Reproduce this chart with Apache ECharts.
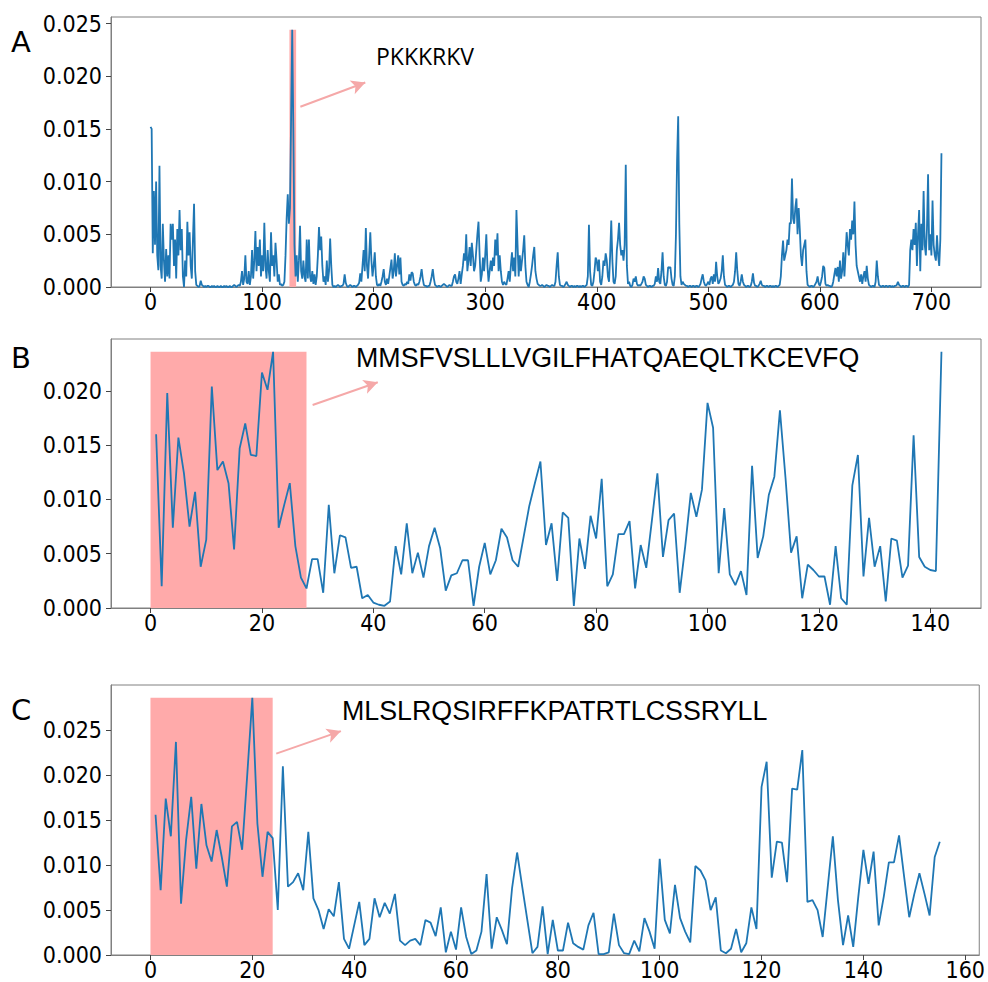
<!DOCTYPE html>
<html><head><meta charset="utf-8">
<script src="https://cdn.jsdelivr.net/npm/echarts@6/dist/echarts.min.js"></script>
<style>html,body{margin:0;padding:0;background:#fff}#c{width:988px;height:982px}</style>
</head><body><div id="c"></div>
<script>
// Panel A: attention weights, residues 0..709
const startA = 0;
const seriesA = [
.0152,.0150,.0032,.0091,.0040,.0100,.0030,.0016,.0115,.0020,
.0008,.0060,.0025,.0005,.0036,.0010,.0030,.0008,.0060,.0045,
.0060,.0020,.0045,.0008,.0055,.0030,.0073,.0035,.0055,.0010,
0,.0025,.0010,.0062,.0030,.0052,.0020,.0008,.0045,.0079,
.0015,.0002,.0001,0,.0001,.0006,.0002,.0001,0,.0001,
0,.0001,.0001,0,0,.0001,0,.0001,0,0,
.0001,0,0,.0001,0,0,.0001,0,.0001,0,
0,.0001,0,0,.0001,.0002,.0001,0,.0001,.0002,
.0001,.0005,.0015,.0002,.0008,.0030,.0005,.0003,.0015,.0002,
.0010,.0035,.0008,.0025,.0053,.0015,.0038,.0020,.0045,.0010,
.0030,.0015,.0061,.0020,.0008,.0035,.0015,.0005,.0052,.0020,
.0030,.0010,.0042,.0025,.0005,.0012,.0002,.0003,.0001,.0002,
.0005,.0030,.0065,.0088,.0060,.0075,.0160,.0244,.0150,.0040,
.0010,.0030,.0005,.0025,.0058,.0015,.0008,.0025,.0010,.0005,
.0045,.0008,.0045,.0010,.0005,.0015,.0003,.0012,.0002,.0010,
.0030,.0057,.0035,.0048,.0020,.0005,.0010,.0002,.0025,.0005,
.0015,.0046,.0020,.0002,0,.0001,0,.0001,.0002,.0001,
0,.0001,.0001,.0003,.0012,.0004,.0001,0,.0001,.0002,
.0001,0,.0001,.0001,0,.0001,.0002,.0004,.0013,.0005,
.0020,.0035,.0015,.0056,.0020,.0008,.0030,.0052,.0025,.0010,
.0020,.0033,.0010,.0002,.0001,.0003,.0001,.0005,.0010,.0017,
.0005,.0002,.0008,.0003,.0010,.0018,.0026,.0008,.0015,.0032,
.0010,.0020,.0030,.0012,.0028,.0005,.0002,.0001,.0003,.0002,
.0005,.0003,.0012,.0006,.0014,.0013,.0005,.0002,.0001,.0003,
.0002,.0005,.0010,.0017,.0008,.0002,.0001,.0001,0,.0001,
.0001,.0005,.0010,.0017,.0008,.0002,.0001,0,.0001,.0001,
0,.0001,.0002,.0003,.0002,.0001,0,.0001,.0002,.0001,
.0001,.0005,.0010,.0012,.0005,.0003,.0008,.0015,.0003,.0012,
.0020,.0032,.0025,.0050,.0015,.0025,.0038,.0020,.0042,.0030,
.0015,.0020,.0035,.0050,.0062,.0030,.0005,.0012,.0028,.0015,
.0030,.0050,.0020,.0005,.0015,.0025,.0015,.0028,.0020,.0045,
.0030,.0051,.0015,.0030,.0015,.0005,.0002,.0005,.0003,.0002,
.0008,.0015,.0005,.0020,.0033,.0015,.0028,.0010,.0073,.0040,
.0010,.0030,.0015,.0025,.0035,.0049,.0020,.0005,.0002,0,
.0005,.0012,.0020,.0030,.0038,.0015,.0008,.0003,.0002,.0001,
.0001,.0002,.0001,0,.0001,.0002,.0001,.0001,0,.0001,
.0002,.0001,.0001,.0005,.0020,.0033,.0010,.0002,.0001,.0001,
0,.0001,.0003,.0005,.0002,.0001,0,.0001,.0001,0,
.0001,0,.0001,.0001,0,.0001,0,.0001,.0001,0,
.0001,.0002,.0010,.0059,.0015,.0002,.0001,.0005,.0015,.0028,
.0025,.0015,.0026,.0005,.0002,.0010,.0025,.0020,.0032,.0025,
.0010,.0005,.0030,.0063,.0025,.0005,.0003,.0010,.0035,.0045,
.0061,.0040,.0030,.0035,.0025,.0040,.0116,.0020,.0003,.0005,
.0001,0,.0002,.0008,.0005,.0010,.0003,.0001,.0002,.0001,
.0003,.0005,.0010,.0008,.0002,.0001,0,.0001,.0001,0,
.0001,.0001,.0003,.0010,.0005,.0018,.0005,.0003,.0015,.0033,
.0010,.0002,.0001,.0005,.0019,.0018,.0019,.0008,.0002,.0001,
.0010,.0050,.0120,.0162,.0060,.0010,.0002,.0005,.0003,.0002,
.0001,.0001,0,.0001,.0001,0,.0001,.0001,0,.0001,
.0001,0,.0001,.0003,.0008,.0012,.0005,.0002,.0001,.0003,
.0005,.0002,.0008,.0010,.0003,.0012,.0005,.0024,.0010,.0003,
.0005,.0008,.0015,.0030,.0010,.0002,.0001,0,.0001,.0001,
0,.0001,.0002,.0005,.0015,.0033,.0015,.0003,.0001,.0005,
.0012,.0005,.0002,.0001,0,.0001,.0001,0,.0001,.0005,
.0013,.0004,.0001,.0001,0,.0001,.0003,.0006,.0002,.0001,
.0001,0,.0001,.0001,0,.0001,.0001,0,.0001,0,
.0001,.0001,0,.0001,.0002,.0010,.0030,.0044,.0025,.0030,
.0035,.0045,.0040,.0061,.0060,.0103,.0065,.0060,.0075,.0084,
.0050,.0075,.0055,.0030,.0020,.0035,.0040,.0045,.0015,.0002,
.0001,0,.0001,.0001,0,.0001,.0003,.0005,.0010,.0003,
.0001,.0005,.0010,.0020,.0018,.0003,.0001,.0002,.0001,.0001,
0,.0001,.0005,.0012,.0018,.0010,.0019,.0005,.0025,.0008,
.0015,.0033,.0010,.0030,.0052,.0040,.0030,.0055,.0045,.0063,
.0050,.0081,.0040,.0020,.0015,.0010,.0005,.0012,.0003,.0010,
.0015,.0005,.0020,.0008,.0002,.0001,0,.0001,.0001,0,
.0005,.0025,.0010,.0002,.0001,0,.0001,.0001,0,.0001,
.0001,0,.0001,.0001,0,.0001,0,.0001,.0001,.0002,
.0005,.0002,.0001,0,.0001,.0001,0,.0001,.0001,0,
.0002,.0035,.0045,.0035,.0055,.0040,.0061,.0020,.0050,.0073,
.0015,.0060,.0035,.0091,.0040,.0030,.0055,.0107,.0035,.0050,
.0030,.0082,.0040,.0030,.0025,.0049,.0030,.0020,.0045,.0127
];
// Panel B: residues 1..142
const startB = 1;
const seriesB = [
.0160,.0020,.0198,.0074,.0157,.0124,.0075,.0107,.0038,.0063,
.0204,.0127,.0135,.0115,.0054,.0147,.0170,.0141,.0140,.0217,
.0201,.0236,.0074,.0095,.0115,.0057,.0028,.0018,.0045,.0045,
.0014,.0095,.0032,.0067,.0065,.0037,.0038,.0009,.0012,.0005,
.0003,.0002,.0006,.0057,.0031,.0078,.0032,.0051,.0028,.0057,
.0074,.0055,.0016,.0030,.0032,.0044,.0044,.0002,.0038,.0060,
.0031,.0044,.0073,.0065,.0044,.0038,.0066,.0094,.0115,.0135,
.0058,.0078,.0025,.0088,.0083,.0002,.0064,.0036,.0085,.0064,
.0119,.0020,.0031,.0068,.0068,.0080,.0018,.0058,.0037,.0080,
.0124,.0047,.0081,.0087,.0014,.0057,.0106,.0084,.0109,.0189,
.0166,.0032,.0092,.0031,.0021,.0034,.0012,.0131,.0046,.0066,
.0104,.0121,.0182,.0120,.0051,.0066,.0009,.0040,.0035,.0029,
.0029,.0003,.0057,.0009,.0003,.0113,.0141,.0029,.0083,.0038,
.0057,.0006,.0064,.0062,.0028,.0039,.0159,.0047,.0038,.0035,
.0034,.0236
];
// Panel C: residues 1..155
const startC = 1;
const seriesC = [
.0156,.0072,.0174,.0132,.0237,.0057,.0128,.0176,.0096,.0168,
.0122,.0104,.0139,.0109,.0076,.0143,.0148,.0117,.0200,.0286,
.0146,.0087,.0137,.0130,.0050,.0210,.0076,.0081,.0091,.0072,
.0137,.0063,.0050,.0029,.0051,.0043,.0081,.0018,.0007,.0033,
.0059,.0011,.0018,.0063,.0042,.0058,.0046,.0068,.0016,.0011,
.0016,.0018,.0011,.0039,.0036,.0021,.0053,.0003,.0026,.0006,
.0053,.0020,.0001,.0005,.0026,.0090,.0007,.0042,.0028,.0012,
.0074,.0114,.0076,.0039,.0002,.0009,.0054,.0001,.0039,.0005,
.0005,.0036,.0013,.0009,.0006,.0033,.0047,.0001,.0001,.0003,
.0046,.0011,.0002,.0001,.0016,.0004,.0041,.0026,.0007,.0107,
.0039,.0024,.0078,.0041,.0026,.0014,.0099,.0094,.0083,.0050,
.0064,.0005,.0002,.0007,.0029,.0003,.0013,.0053,.0029,.0187,
.0215,.0086,.0126,.0125,.0081,.0185,.0184,.0228,.0059,.0061,
.0050,.0020,.0076,.0132,.0061,.0011,.0044,.0009,.0065,.0117,
.0079,.0115,.0033,.0065,.0103,.0103,.0133,.0087,.0042,.0068,
.0091,.0068,.0044,.0109,.0126
];
// highlighted residue spans
const spanA = [124.5, 130.5];
const spanB = [0, 28];
const spanC = [0, 24];
const peptideA = 'PKKKRKV';
const peptideB = 'MMSFVSLLLVGILFHATQAEQLTKCEVFQ';
const peptideC = 'MLSLRQSIRFFKPATRTLCSSRYLL';
const panelLabels = ['A', 'B', 'C'];
const xTicksA = [0,100,200,300,400,500,600,700];
const xTicksB = [0,20,40,60,80,100,120,140];
const xTicksC = [0,20,40,60,80,100,120,140,160];
const yTicksA = [0,0.005,0.010,0.015,0.020,0.025];
const yTicksB = [0,0.005,0.010,0.015,0.020];
const yTicksC = [0,0.005,0.010,0.015,0.020,0.025];

const TICK_FONT = '"DejaVu Sans Condensed","Liberation Sans Narrow","DejaVu Sans",sans-serif';
const BLUE = '#1f77b4', SHADE = '#ffaaaa', ARROW = '#f5a8a8', SPINE = '#808080';

function toPts(arr, start){ return arr.map((v,i)=>[start+i, v]); }
function xRange(arr, start, span){
  const lo = Math.min(start, span[0]), hi = Math.max(start+arr.length-1, span[1]);
  const p = (hi-lo)*0.05; return [lo-p, hi+p];
}
function yMax(arr){ return Math.max(...arr)*1.05; }

const grids = [
  {left:111, width:870, top:17, height:270},
  {left:111, width:870, top:339, height:269},
  {left:111, width:870, top:685, height:270}
].map(g=>Object.assign(g,{show:true, borderColor:SPINE, borderWidth:1, backgroundColor:'transparent'}));

function xAx(i, arr, start, span, ticks){
  const r = xRange(arr, start, span);
  return {type:'value', gridIndex:i, min:r[0], max:r[1],
    axisLine:{show:true, onZero:false, lineStyle:{color:SPINE, width:1}},
    axisTick:{show:true, length:5, inside:false, customValues:ticks, lineStyle:{color:'#444'}},
    axisLabel:{customValues:ticks, color:'#000', fontSize:23, fontFamily:TICK_FONT, margin:3},
    splitLine:{show:false}};
}
function yAx(i, arr, ticks){
  return {type:'value', gridIndex:i, min:0, max:yMax(arr),
    axisLine:{show:true, onZero:false, lineStyle:{color:SPINE, width:1}},
    axisTick:{show:true, length:5, customValues:ticks, lineStyle:{color:'#444'}},
    axisLabel:{customValues:ticks, color:'#000', fontSize:23, fontFamily:TICK_FONT, margin:9,
      formatter:v=>v.toFixed(3)},
    splitLine:{show:false}};
}
function shade(i, arr, span, arrow){
  const m = Math.max(...arr);
  return {type:'line', xAxisIndex:i, yAxisIndex:i, z:1, silent:true, showSymbol:false,
    data:[[span[0], m],[span[1], m]],
    lineStyle:{width:0, color:SHADE}, itemStyle:{color:SHADE},
    areaStyle:{color:SHADE, opacity:1, origin:'start'},
    markLine:{silent:true, symbol:['none','arrow'], symbolSize:[11,14], animation:false,
      lineStyle:{color:ARROW, width:2, type:'solid'}, label:{show:false},
      data:[[{coord:arrow[0]},{coord:arrow[1]}]]}};
}
function line(i, arr, start){
  return {type:'line', xAxisIndex:i, yAxisIndex:i, z:3, showSymbol:false, silent:true,
    data:toPts(arr, start), lineStyle:{color:BLUE, width:1.8}, itemStyle:{color:BLUE}};
}

const chart = echarts.init(document.getElementById('c'), null, {renderer:'svg'});
chart.setOption({
  animation:false,
  grid:grids,
  xAxis:[xAx(0,seriesA,startA,spanA,xTicksA), xAx(1,seriesB,startB,spanB,xTicksB), xAx(2,seriesC,startC,spanC,xTicksC)],
  yAxis:[yAx(0,seriesA,yTicksA), yAx(1,seriesB,yTicksB), yAx(2,seriesC,yTicksC)],
  series:[
    shade(0, seriesA, spanA, [[134.3,0.0171],[192.5,0.0194]]),
    line(0, seriesA, startA),
    shade(1, seriesB, spanB, [[29.1,0.0187],[40.8,0.0208]]),
    line(1, seriesB, startB),
    shade(2, seriesC, spanC, [[24.7,0.0224],[37.4,0.0249]]),
    line(2, seriesC, startC)
  ],
  graphic:[
    {type:'text', x:11, y:42, style:{text:panelLabels[0], font:'29px "DejaVu Sans"', fill:'#000', textVerticalAlign:'middle'}},
    {type:'text', x:11, y:358, style:{text:panelLabels[1], font:'29px "DejaVu Sans"', fill:'#000', textVerticalAlign:'middle'}},
    {type:'text', x:11, y:710, style:{text:panelLabels[2], font:'29px "DejaVu Sans"', fill:'#000', textVerticalAlign:'middle'}},
    {type:'text', x:376, y:56, style:{text:peptideA, font:'23px "Open Sans"', fill:'#000', textVerticalAlign:'middle'}},
    {type:'text', x:356, y:358, style:{text:peptideB, font:'26.8px "Liberation Sans"', fill:'#000', textVerticalAlign:'middle'}},
    {type:'text', x:342, y:711, style:{text:peptideC, font:'26.8px "Liberation Sans"', fill:'#000', textVerticalAlign:'middle'}}
  ]
});
</script></body></html>
